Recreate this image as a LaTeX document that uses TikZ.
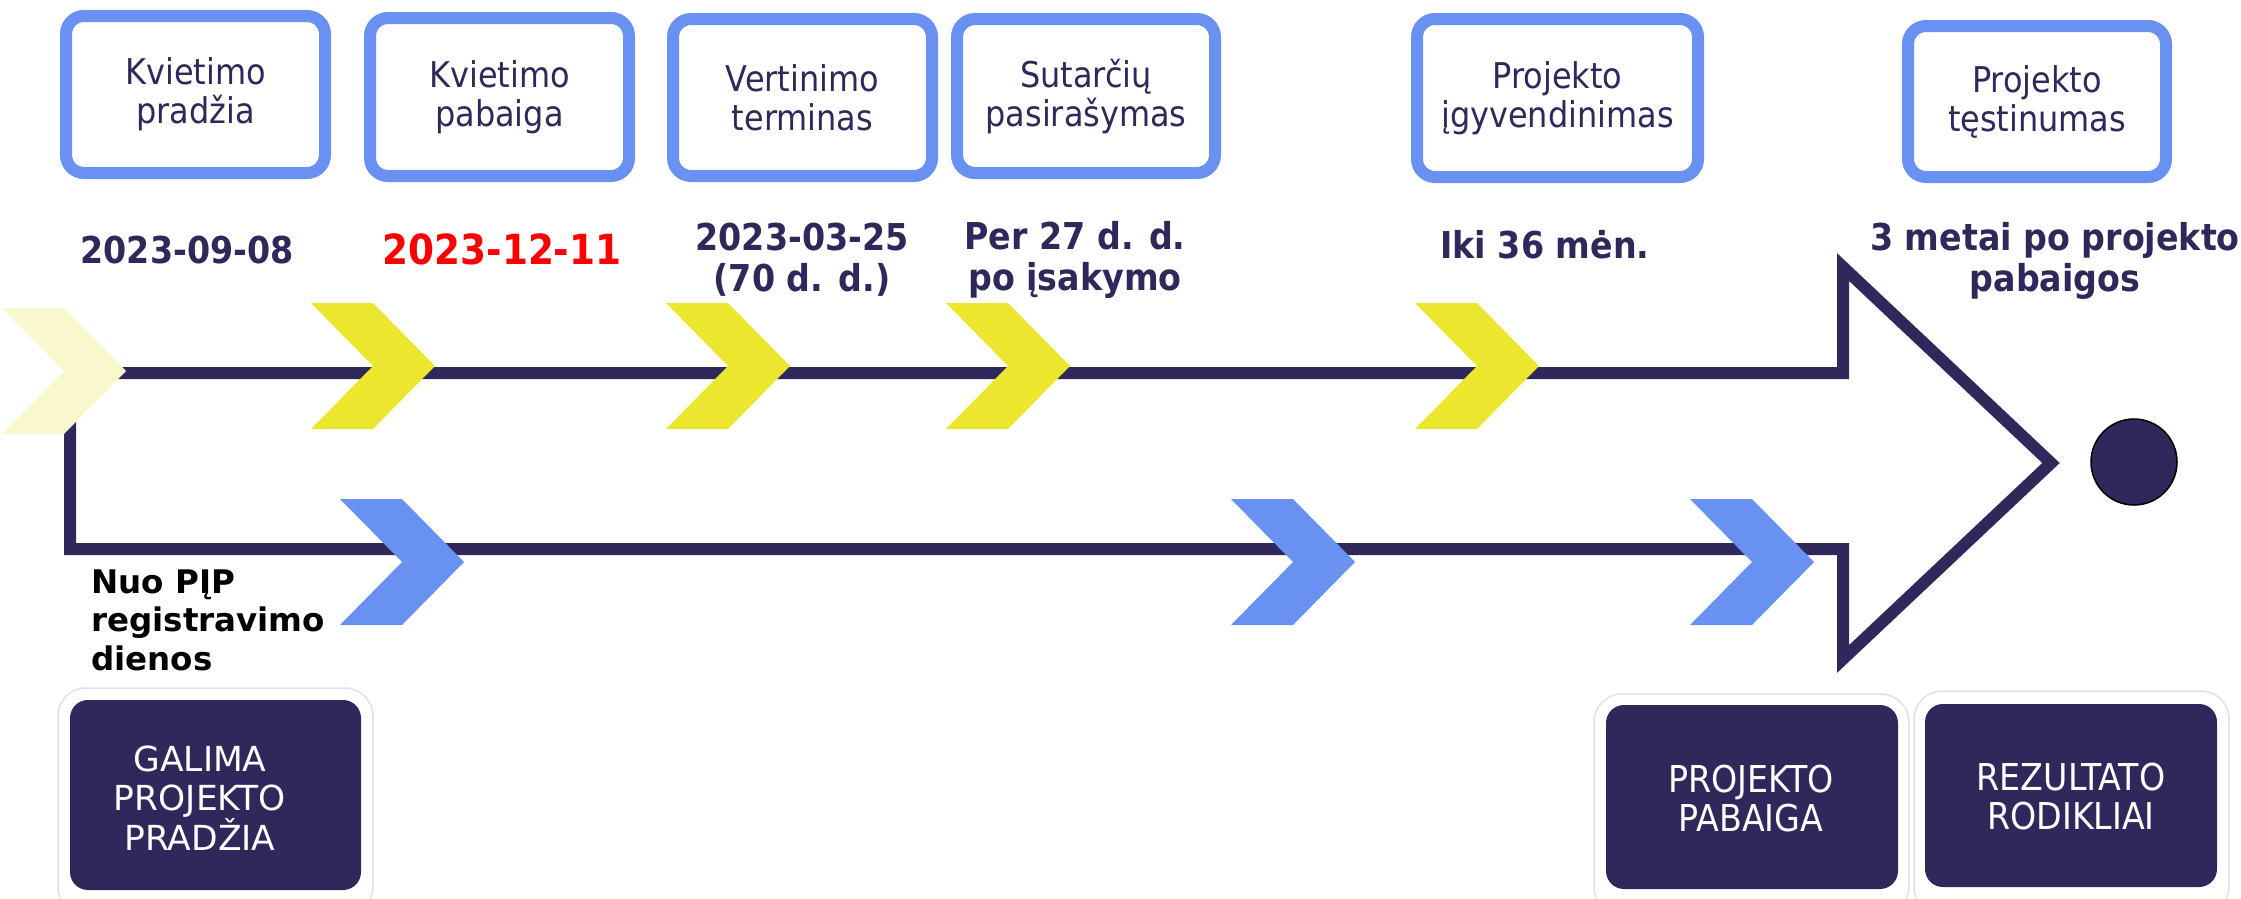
\documentclass[tikz,border=0pt]{standalone}
\usepackage{fontspec}
\IfFontExistsTF{DejaVu Sans Condensed}{\setmainfont{DejaVu Sans Condensed}}{\setmainfont{DejaVu Sans}}
\newfontfamily\widefont{DejaVu Sans}
\definecolor{navy}{HTML}{30285A}
\definecolor{boxblue}{HTML}{6891F2}
\definecolor{chyellow}{HTML}{ECE72E}
\definecolor{chpale}{HTML}{F8F8CC}
\definecolor{faint}{HTML}{E2E2E2}
\definecolor{datered}{HTML}{FF0000}
\tikzset{
  topbox/.style={draw=boxblue, line width=12pt, rounded corners=18pt, fill=white, text=navy,
    align=center, font=\fontsize{35.5}{39}\selectfont, inner sep=0pt},
  datelbl/.style={text=navy, align=center, font=\bfseries\fontsize{37}{41}\selectfont, inner sep=0pt},
  botbox/.style={fill=navy, rounded corners=18pt},
  bottext/.style={text=white, align=center, inner sep=0pt, font=\fontsize{37}{39}\selectfont},
  botframe/.style={draw=faint, line width=1.5pt, rounded corners=28pt, fill=white},
  trackline/.style={draw=navy, line width=12pt, line join=miter},
  chev/.pic={\fill[#1] (0,-63) -- (62,-63) -- (124,0) -- (62,63) -- (0,63) -- (62,0) -- cycle;}
}
\begin{document}
\begin{tikzpicture}[x=1pt, y=-1pt]
\useasboundingbox (0,0) rectangle (2241,898);
% track
\draw[trackline] (70,373) -- (1843,373) -- (1843,267) -- (2051,463) -- (1843,659) -- (1843,549) -- (70,549) -- cycle;
% chevrons
\pic at (2,371) {chev=chpale};
\pic at (311,366) {chev=chyellow};
\pic at (666,366) {chev=chyellow};
\pic at (946,366) {chev=chyellow};
\pic at (1415,366) {chev=chyellow};
\pic at (340,562) {chev=boxblue};
\pic at (1231,562) {chev=boxblue};
\pic at (1690,562) {chev=boxblue};
% end dot
\node[circle, fill=navy, draw=black, line width=1.5pt, minimum size=86pt, inner sep=0pt] (dot) at (2134,462) {};
% top boxes
\node[topbox, minimum width=259pt, minimum height=157pt] (b1) at (195.5,94.5) {Kvietimo\\pradžia};
\node[topbox, minimum width=259pt, minimum height=158pt] (b2) at (499.5,97) {Kvietimo\\pabaiga};
\node[topbox, minimum width=259pt, minimum height=157pt] (b3) at (802.5,97.5) {Vertinimo\\terminas};
\node[topbox, minimum width=258pt, minimum height=154pt] (b4) at (1086,96) {Sutarčių\\pasirašymas};
\node[topbox, minimum width=281pt, minimum height=158pt] (b5) at (1557.5,98) {Projekto\\įgyvendinimas};
\node[topbox, minimum width=258pt, minimum height=151pt] (b6) at (2037,101.5) {Projekto\\tęstinumas};
% dates
\node[datelbl] (d1) at (187,250) {2023-09-08};
\node[datelbl, text=datered, font=\bfseries\fontsize{41.5}{46}\selectfont] (d2) at (502,249) {2023-12-11};
\node[datelbl] (d3) at (802,260) {2023-03-25\\(70 d. d.)};
\node[datelbl] (d4) at (1075,260) {Per 27 d. d.\\po įsakymo};
\node[datelbl] (d5) at (1545,245) {Iki 36 mėn.};
\node[datelbl] (d6) at (2055,261) {3 metai po projekto\\pabaigos};
% registration note
\node[anchor=west, align=left, inner sep=0pt, text=black, font=\widefont\bfseries\fontsize{32.5}{38.5}\selectfont] (nuo) at (91,620) {Nuo PĮP\\registravimo\\dienos};
% bottom boxes
\draw[botframe] (58,688) rectangle (373,915);
\draw[botframe] (1594,694) rectangle (1909,915);
\draw[botframe] (1914,691) rectangle (2229,915);
\node[botbox, minimum width=291pt, minimum height=190pt] (g) at (215.5,795) {};
\node[botbox, minimum width=292pt, minimum height=184pt] (p) at (1752,797) {};
\node[botbox, minimum width=292pt, minimum height=183pt] (r) at (2071,795.5) {};
\node[bottext, font=\widefont\fontsize{34.5}{38.5}\selectfont] (gt) at (200,798) {GALIMA\\PROJEKTO\\PRADŽIA};
\node[bottext] (pt) at (1751,799) {PROJEKTO\\PABAIGA};
\node[bottext] (rt) at (2071,797) {REZULTATO\\RODIKLIAI};
\end{tikzpicture}
\end{document}
